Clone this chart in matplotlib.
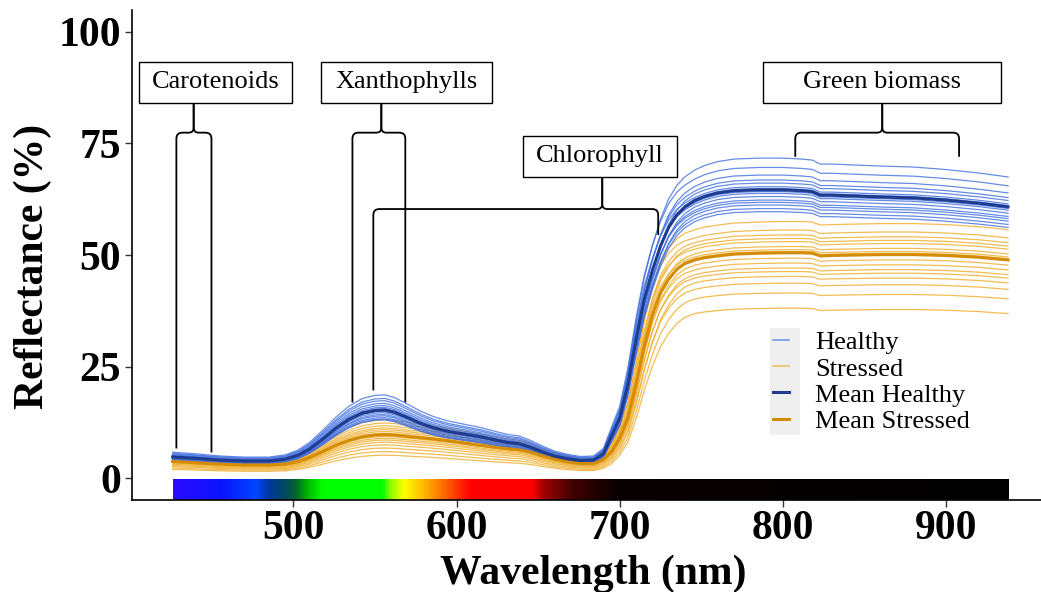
import numpy as np
import matplotlib.pyplot as plt
from matplotlib.colors import LinearSegmentedColormap
from matplotlib.patches import Rectangle, PathPatch
from matplotlib.path import Path
from matplotlib.lines import Line2D

plt.rcParams['font.family'] = ['Liberation Serif', 'DejaVu Serif']

# spectra (nm, reflectance %)
wavelength = [426, 440, 455, 470, 485, 495, 503, 510, 518, 526, 534, 542, 550, 556,
              562, 570, 578, 586, 595, 605, 615, 625, 632, 638, 645, 652, 660, 668,
              676, 684, 690, 695, 700, 705, 710, 715, 720, 725, 730, 735, 740, 746,
              752, 760, 770, 785, 800, 812, 818, 823, 830, 845, 860, 880, 900, 920, 938]
mean_healthy = [4.8, 4.5, 4.1, 3.9, 3.9, 4.3, 5.2, 6.6, 8.8, 11.2, 13.2, 14.6, 15.2, 15.3,
                14.8, 13.6, 12.3, 11.3, 10.5, 9.9, 9.3, 8.5, 8.0, 7.8, 7.0, 6.0, 5.0, 4.4,
                4.0, 4.1, 5.5, 9.5, 13.5, 21.0, 31.0, 40.0, 46.5, 52.0, 56.2, 59.0, 60.8, 62.2,
                63.1, 63.9, 64.4, 64.6, 64.6, 64.4, 64.2, 63.4, 63.4, 63.2, 63.0, 62.8, 62.3, 61.6, 60.8]
mean_stressed = [3.8, 3.5, 3.2, 3.0, 3.0, 3.2, 3.8, 4.7, 6.0, 7.4, 8.5, 9.3, 9.7, 9.8,
                 9.7, 9.4, 9.1, 8.8, 8.4, 7.9, 7.4, 6.9, 6.6, 6.4, 5.9, 5.1, 4.3, 3.7,
                 3.3, 3.3, 4.2, 6.0, 9.0, 13.5, 21.0, 29.5, 36.5, 41.5, 44.6, 46.8, 48.1, 48.9,
                 49.4, 49.8, 50.2, 50.4, 50.5, 50.5, 50.4, 49.8, 49.9, 50.0, 50.1, 50.1, 49.9, 49.5, 48.9]
# share of the NIR plateau level in each curve (visible part -> NIR part)
nir_weight = [0, 0, 0, 0, 0, 0, 0, 0, 0, 0, 0, 0, 0, 0,
              0, 0, 0, 0, 0, 0, 0, 0, 0, 0, 0, 0, 0, 0,
              0, 0, 0.05, 0.1, 0.2, 0.3, 0.45, 0.6, 0.7, 0.8, 0.88, 0.94, 0.98, 1,
              1, 1, 1, 1, 1, 1, 1, 1, 1, 1, 1, 1, 1, 1, 1]

# single plants: green peak (~555 nm) and NIR plateau (800 nm)
healthy_vis = [17.4, 18.7, 15.9, 16.8, 14.3, 17.9, 15.0, 15.6, 16.3, 13.6, 14.7, 15.3, 13.1, 14.0, 13.3]
healthy_nir = [71.7, 69.6, 67.9, 66.8, 66.1, 65.3, 64.9, 64.2, 63.8, 63.1, 62.3, 61.8, 61.2, 60.4, 59.7]
stressed_vis = [12.4, 13.1, 11.3, 10.5, 11.8, 9.8, 10.9, 10.1, 9.0, 9.4, 8.1, 8.6, 6.8, 7.5, 6.0, 5.2]
stressed_nir = [57.5, 55.6, 54.5, 53.7, 53.0, 51.9, 51.2, 50.8, 49.3, 48.2, 47.1, 46.3, 45.2, 43.7, 41.5, 38.1]

# colour strip under the curves
bar_wl = [426, 455, 476, 484, 492, 500, 508, 517, 554, 558, 567, 578, 588, 598, 608, 646, 653, 671, 698, 938]
bar_colors = ['#2a0cff', '#0a14ff', '#0048ff', '#0038a0', '#00456a', '#006034', '#00b800', '#00ff00',
              '#00ff00', '#80ff00', '#ffff00', '#ffc000', '#ff8000', '#ff4000', '#ff0000', '#ff0000',
              '#a00000', '#400000', '#0a0000', '#000000']

W, H = 1041, 592
fig = plt.figure(figsize=(W / 100, H / 100), dpi=100)
ax_l, ax_r, ax_t, ax_b = 132, 1041, 10, 500
ax = fig.add_axes([ax_l / W, 1 - ax_b / H, (ax_r - ax_l) / W, (ax_b - ax_t) / H])
xlim = (401.1, 958.2)
ylim = (-4.84, 104.86)
ax.set_xlim(*xlim)
ax.set_ylim(*ylim)
sx = (ax_r - ax_l) / (xlim[1] - xlim[0])   # px per nm
sy = (ax_b - ax_t) / (ylim[1] - ylim[0])   # px per %

wl = np.array(wavelength)
w = np.array(nir_weight)
mh = np.array(mean_healthy)
ms = np.array(mean_stressed)
i800 = wavelength.index(800)
vis = wl < 650

for v, n in zip(stressed_vis, stressed_nir):
    y = ms * ((1 - w) * v / ms[vis].max() + w * n / ms[i800])
    ax.plot(wl, y, color='#f0ac28', lw=0.9, alpha=0.8, zorder=2)
for v, n in zip(healthy_vis, healthy_nir):
    y = mh * ((1 - w) * v / mh[vis].max() + w * n / mh[i800])
    ax.plot(wl, y, color='#3f6fe0', lw=0.9, alpha=0.8, zorder=3)
ax.plot(wl, ms, color='#d48c06', lw=2.2, zorder=4)
ax.plot(wl, mh, color='#1f3c8e', lw=2.2, zorder=5)

# spectrum strip
cmap = LinearSegmentedColormap.from_list(
    'spec', [((x - bar_wl[0]) / (bar_wl[-1] - bar_wl[0]), c) for x, c in zip(bar_wl, bar_colors)])
ax.imshow(np.linspace(0, 1, 512)[None, :], cmap=cmap, aspect='auto',
          extent=[bar_wl[0], bar_wl[-1], ylim[0], -0.2], zorder=1)


def brace(x1, x2, xc, y_h, y1, y2, y_top, r=6, t=5):
    rx, ry, tx, ty = r / sx, r / sy, t / sx, t / sy
    for xe, ye, s in [(x1, y1, 1), (x2, y2, -1)]:
        verts = [(xe, ye), (xe, y_h - ry), (xe, y_h), (xe + s * rx, y_h),
                 (xc - s * tx, y_h), (xc, y_h), (xc, y_h + ty), (xc, y_top)]
        codes = [Path.MOVETO, Path.LINETO, Path.CURVE3, Path.CURVE3,
                 Path.LINETO, Path.CURVE3, Path.CURVE3, Path.LINETO]
        ax.add_patch(PathPatch(Path(verts, codes), fill=False, lw=1.3, ec='black', zorder=6))


def label_box(x1, x2, y1, y2, text):
    ax.add_patch(Rectangle((x1, y1), x2 - x1, y2 - y1, fill=True, fc='white',
                           ec='black', lw=1.0, zorder=7))
    ax.text((x1 + x2) / 2, (y1 + y2) / 2, text, ha='center', va='center',
            fontsize=19, zorder=8)


label_box(405.6, 499.4, 84.0, 93.3, 'Carotenoids')
label_box(517.0, 622.0, 84.0, 93.3, 'Xanthophylls')
label_box(641.0, 735.0, 67.5, 76.7, 'Chlorophyll')
label_box(788.0, 933.8, 84.0, 93.3, 'Green biomass')
brace(428.3, 449.8, 438.9, 77.4, 6.7, 5.8, 84.0)
brace(536.2, 568.6, 553.9, 77.4, 17.0, 17.0, 84.0)
brace(549.0, 723.6, 689.3, 60.3, 19.7, 54.5, 67.5)
brace(807.6, 908.0, 860.9, 77.4, 72.0, 72.0, 84.0)

for side in ['top', 'right']:
    ax.spines[side].set_visible(False)
for side in ['left', 'bottom']:
    ax.spines[side].set_linewidth(1.2)
ax.set_xticks([500, 600, 700, 800, 900])
ax.set_yticks([0, 25, 50, 75, 100])
ax.tick_params(axis='x', length=5, width=1, color='#333333', pad=2, labelsize=30)
ax.tick_params(axis='y', length=5, width=1, color='#333333', pad=3, labelsize=30)
for lab in ax.get_xticklabels() + ax.get_yticklabels():
    lab.set_fontweight('bold')

fig.text(593 / W, 1 - 584 / H, 'Wavelength (nm)', ha='center', va='baseline',
         fontsize=30, fontweight='bold')
fig.text(33 / W, 1 - 266 / H, 'Reflectance (%)', ha='center', va='center',
         rotation=90, fontsize=30, fontweight='bold')

# legend with grey key column
ax.add_patch(Rectangle((770 / W, 1 - 435 / H), 30 / W, 107 / H, transform=fig.transFigure,
                       fc='#efefef', ec='none', zorder=0.5))
handles = [Line2D([], [], color='#7399ea', lw=1.2),
           Line2D([], [], color='#f3c060', lw=1.2),
           Line2D([], [], color='#1f3c8e', lw=2.2),
           Line2D([], [], color='#d48c06', lw=2.2)]
labels = ['Healthy', 'Stressed', 'Mean Healthy', 'Mean Stressed']
fig.legend(handles, labels, loc='upper left', bbox_to_anchor=(773 / W, 1 - 331 / H),
           frameon=False, fontsize=19, handlelength=0.6, handletextpad=1.0,
           labelspacing=0.1, borderpad=0, borderaxespad=0)

fig.savefig('out.png', dpi=100)
